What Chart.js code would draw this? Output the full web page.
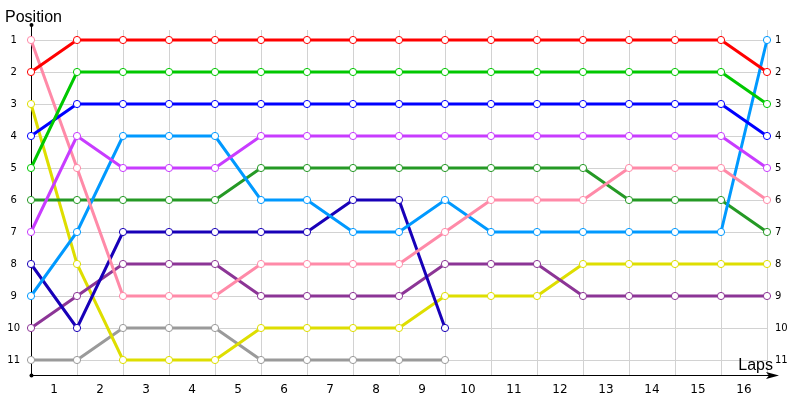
<!DOCTYPE html>
<html><head><meta charset="utf-8">
<script src="https://cdn.jsdelivr.net/npm/chart.js@4/dist/chart.umd.min.js"></script>
<style>html,body{margin:0;padding:0;background:#fff}#w{width:800px;height:400px;position:relative}</style>
</head><body><div id="w"><canvas id="c"></canvas></div>
<script>
// lap index of each point (gridlines) and the lap labels shown between them
const laps = [0,1,2,3,4,5,6,7,8,9,10,11,12,13,14,15,16];
const lapLabels = ['1','2','3','4','5','6','7','8','9','10','11','12','13','14','15','16'];
const positionTicks = [1,2,3,4,5,6,7,8,9,10,11];

// positions per driver, one per lap index
const redPos       = [2,1,1,1,1,1,1,1,1,1,1,1,1,1,1,1,2];
const greenPos     = [5,2,2,2,2,2,2,2,2,2,2,2,2,2,2,2,3];
const bluePos      = [4,3,3,3,3,3,3,3,3,3,3,3,3,3,3,3,4];
const violetPos    = [7,4,5,5,5,4,4,4,4,4,4,4,4,4,4,4,5];
const pinkPos      = [1,5,9,9,9,8,8,8,8,7,6,6,6,5,5,5,6];
const skyPos       = [9,7,4,4,4,6,6,7,7,6,7,7,7,7,7,7,1];
const darkGreenPos = [6,6,6,6,6,5,5,5,5,5,5,5,5,6,6,6,7];
const navyPos      = [8,10,7,7,7,7,7,6,6,10];
const plumPos      = [10,9,8,8,8,9,9,9,9,8,8,8,9,9,9,9,9];
const yellowPos    = [3,8,11,11,11,10,10,10,10,9,9,9,8,8,8,8,8];
const grayPos      = [11,11,10,10,10,11,11,11,11,11];

const series = [
  {pos: redPos, color: '#ff0000'},
  {pos: greenPos, color: '#00c800'},
  {pos: bluePos, color: '#0000ff'},
  {pos: violetPos, color: '#c83cff'},
  {pos: pinkPos, color: '#ff8aa8'},
  {pos: skyPos, color: '#0099ff'},
  {pos: darkGreenPos, color: '#259925'},
  {pos: navyPos, color: '#1800b8'},
  {pos: plumPos, color: '#8c3596'},
  {pos: yellowPos, color: '#dede00'},
  {pos: grayPos, color: '#9a9a9a'}
];

const YMIN = 0.6875, YMAX = 11.46875;
const FONT = "'DejaVu Sans', sans-serif";

const decor = {
  id: 'decor',
  beforeDatasetsDraw(chart) {
    const {ctx, chartArea: a} = chart;
    ctx.save();
    ctx.strokeStyle = '#000'; ctx.fillStyle = '#000'; ctx.lineWidth = 1;
    ctx.beginPath();
    ctx.moveTo(a.left + 0.5, a.top - 5); ctx.lineTo(a.left + 0.5, a.top + 1);
    ctx.moveTo(a.right, a.bottom + 0.5); ctx.lineTo(a.right + 10, a.bottom + 0.5);
    ctx.stroke();
    ctx.beginPath(); ctx.arc(a.left + 0.5, a.top - 5, 2, 0, Math.PI * 2); ctx.fill();
    ctx.beginPath(); ctx.arc(a.left + 0.5, a.bottom + 0.5, 2, 0, Math.PI * 2); ctx.fill();
    ctx.beginPath();
    ctx.moveTo(a.right + 12, a.bottom + 0.5);
    ctx.lineTo(a.right - 1, a.bottom - 3);
    ctx.lineTo(a.right + 2, a.bottom + 0.5);
    ctx.lineTo(a.right - 1, a.bottom + 4);
    ctx.closePath(); ctx.fill();
    ctx.restore();
  },
  afterDraw(chart) {
    const {ctx, chartArea: a} = chart;
    ctx.save();
    ctx.fillStyle = '#000';
    ctx.font = "16px 'Liberation Sans', Arial, sans-serif";
    ctx.textBaseline = 'alphabetic';
    ctx.textAlign = 'left';
    ctx.fillText('Position', 5, 22);
    ctx.textAlign = 'right';
    ctx.fillText('Laps', a.right + 6, a.bottom - 5);
    ctx.restore();
  }
};

new Chart(document.getElementById('c'), {
  type: 'line',
  data: {
    datasets: series.map(s => ({
      data: s.pos.map((p, i) => ({x: laps[i], y: p})),
      borderColor: s.color,
      backgroundColor: '#fff',
      pointBackgroundColor: '#fff',
      pointBorderColor: s.color,
      pointBorderWidth: 1,
      pointRadius: 3.6,
      borderWidth: 3,
      tension: 0,
      fill: false,
      clip: false
    }))
  },
  options: {
    responsive: true,
    maintainAspectRatio: false,
    animation: false,
    layout: {padding: {top: 30, left: 0, right: 0, bottom: 0}},
    plugins: {legend: {display: false}, tooltip: {enabled: false}, title: {display: false}},
    scales: {
      x: {
        type: 'linear', min: 0, max: 16,
        afterBuildTicks: s => {
          const t = laps.map(v => ({value: v})).concat(lapLabels.map((l, i) => ({value: laps[i] + 0.5})));
          t.sort((p, q) => p.value - q.value);
          s.ticks = t;
        },
        afterFit: s => { s.height = 25; },
        ticks: {
          autoSkip: false, maxRotation: 0, padding: 8, color: '#000',
          font: {family: FONT, size: 12},
          callback: v => Number.isInteger(v) ? '' : lapLabels[Math.floor(v)]
        },
        grid: {
          drawTicks: false,
          color: c => (c.tick && Number.isInteger(c.tick.value)) ? '#d2d2d2' : 'rgba(0,0,0,0)'
        },
        border: {color: '#000', width: 1}
      },
      y: {
        type: 'linear', reverse: true, min: YMIN, max: YMAX, position: 'left',
        afterBuildTicks: s => { s.ticks = positionTicks.map(v => ({value: v})); },
        afterFit: s => { s.width = 31; },
        ticks: {padding: 11, crossAlign: 'center', color: '#000', font: {family: FONT, size: 10}},
        grid: {drawTicks: false, color: '#d2d2d2'},
        border: {color: '#000', width: 1}
      },
      y2: {
        type: 'linear', reverse: true, min: YMIN, max: YMAX, position: 'right',
        afterBuildTicks: s => { s.ticks = positionTicks.map(v => ({value: v})); },
        afterFit: s => { s.width = 33; },
        ticks: {padding: 8, color: '#000', font: {family: FONT, size: 10}},
        grid: {display: false, drawTicks: false},
        border: {display: false}
      }
    }
  },
  plugins: [decor]
});
</script>
</body></html>
